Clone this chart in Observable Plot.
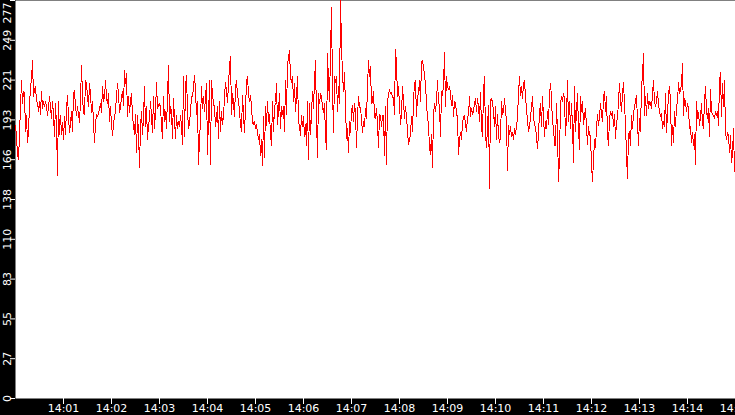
<!DOCTYPE html>
<html>
<head>
<meta charset="utf-8">
<script src="https://cdn.jsdelivr.net/npm/d3@7"></script>
<script src="https://cdn.jsdelivr.net/npm/@observablehq/plot@0.6"></script>
<style>
  html, body { margin: 0; padding: 0; background: #000; }
  svg { display: block; }
</style>
</head>
<body>
<div id="chart"></div>
<script>
// Readings, one per second-and-a-quarter, starting 14:00:00
const startTime = "2024-01-01T14:00:00Z";
const stepSeconds = 1.25;

const values1 = [190,182,170,166,184,203,221,205,214,212,186,197,178,186,204,217,222,235,210,215,217,207,206,200,207,198,214,202,207,203,207,203,197,203,210,203,195,207,198,182,205,191,155,207,184,197,184,192,180,196,184,202,211,196,185,191,200,186,213,214,203,197,203,198,192,207,232,211,198,198,221,220,210,203,219,212,199,207,192,178,191,198,196,198,202,205,199,217,207,210];
const values2 = [221,210,205,212,193,203,191,183,191,196,200,211,219,212,199,203,210,214,204,228,219,226,196,210,199,207,212,197,190,184,198,171,197,185,161,189,200,184,195,217,189,203,180,190,195,207,196,185,210,188,199,220,202,204,205,203,190,181,210,193,200,188,210,232,193,203,200,181,209,195,181,197,188,193,189,197,190,177,224,182,217,225,200,188,191,200,210,210,217,225];
const values3 = [214,198,207,163,180,193,217,202,210,200,210,219,170,195,221,163,221,212,205,203,189,196,203,181,207,186,200,191,196,210,220,214,206,219,231,238,198,212,206,196,216,221,212,207,200,190,186,211,198,185,202,220,224,212,207,211,203,192,191,193,188,191,185,180,184,169,180,162,196,168,203,190,207,193,198,184,176,207,186,202,206,219,191,200,212,188,203,198,203,186];
const values4 = [221,198,232,238,242,224,220,224,207,219,200,210,224,193,189,183,197,189,196,182,191,176,207,166,205,184,198,214,202,221,235,196,168,212,205,212,210,203,199,205,183,173,240,221,207,240,272,217,185,224,220,224,200,217,205,280,245,226,214,227,203,181,188,171,193,185,200,204,193,205,199,175,196,210,203,202,195,185,193,189,202,195,217,235,224,231,205,207,214,196];
const values5 = [195,202,191,175,198,197,189,197,197,169,203,163,207,211,215,212,213,210,209,198,243,233,210,217,205,191,198,217,207,195,203,196,186,177,180,184,196,186,207,220,221,196,210,212,221,207,234,235,231,225,219,205,196,191,174,170,184,161,198,205,200,207,221,207,203,182,214,211,218,241,203,224,217,215,217,212,204,211,196,207,205,199,195,170,180,185,180,192,196,197];
const values6 = [191,186,196,197,210,196,202,198,200,205,209,200,209,203,193,213,189,182,213,224,184,175,189,204,146,207,209,206,200,189,203,180,198,184,178,182,207,198,200,209,200,193,159,190,184,189,182,185,180,188,184,189,196,212,224,211,217,209,219,221,210,202,193,186,189,196,203,210,196,190,189,182,174,184,199,205,189,210,196,182,193,188,200,191,212,219,210,191,190,176];
const values7 = [176,205,185,151,168,205,210,207,212,209,183,196,221,193,207,188,205,191,164,217,186,200,212,189,173,210,200,207,191,196,202,189,177,189,184,182,163,151,166,180,175,188,198,190,196,205,198,193,209,214,200,210,184,176,195,200,197,200,189,198,181,192,195,207,219,207,200,212,220,205,191,170,153,184,186,176,197,188,198,203,207,211,193,176,195,186,217,225,240,197];
const values8 = [210,197,212,202,207,205,202,212,221,207,203,207,214,205,200,196,198,188,193,189,212,185,198,212,217,207,176,190,178,200,189,203,207,220,212,214,219,233,197,209,206,200,205,202,188,189,178,185,176,184,163,207,195,199,190,196,205,192,188,207,217,200,195,202,182,215,200,198,197,195,200,197,200,190,220,227,196,219,203,221,186,180,185,183,171,183,164,170,188,158];

const yTickValues = [0, 27.7, 55.4, 83.1, 110.8, 138.5, 166.2, 193.9, 221.6, 249.3, 277];
const yTickLabels = ["0","27","55","83","110","138","166","193","221","249","277"];
const xTickLabels = ["14:01","14:02","14:03","14:04","14:05","14:06","14:07","14:08","14:09","14:10","14:11","14:12","14:13","14:14","14:15"];

const allValues = [...values1, ...values2, ...values3, ...values4, ...values5, ...values6, ...values7, ...values8];
const t0 = new Date(startTime);
const data = allValues.map((v, i) => ({t: new Date(+t0 + i * stepSeconds * 1000), v}));
const xTicks = xTickLabels.map(s => new Date(`2024-01-01T${s}:00Z`));
const fmt = d3.utcFormat("%H:%M");
const lastIdx = yTickValues.length - 1;

const chart = Plot.plot({
  width: 735,
  height: 415,
  marginLeft: 15,
  marginRight: 0,
  marginTop: 0,
  marginBottom: 17,
  style: {background: "black", fontFamily: "DejaVu Sans", fontSize: "11px"},
  x: {type: "utc", domain: [t0, new Date("2024-01-01T14:15:00Z")]},
  y: {domain: [0, 277]},
  marks: [
    Plot.frame({fill: "white", stroke: null}),
    Plot.lineY(data, {x: "t", y: "v", stroke: "#ff0000", strokeWidth: 1, clip: true, shapeRendering: "crispEdges"}),
    Plot.axisY({ticks: yTickValues, tickSize: 5, stroke: "white", tickFormat: () => "", label: null}),
    Plot.text(yTickValues.slice(0, lastIdx), {y: d => d, text: (d, i) => yTickLabels[i], frameAnchor: "left", dx: -8, rotate: -90, fill: "white", fontSize: 11, textAnchor: "middle", lineAnchor: "middle"}),
    Plot.text([yTickValues[lastIdx]], {y: d => d, text: () => yTickLabels[lastIdx], frameAnchor: "left", dx: -8, dy: 2, rotate: -90, fill: "white", fontSize: 11, textAnchor: "end", lineAnchor: "middle"}),
    Plot.axisX({ticks: xTicks, tickSize: 6, tickPadding: 0, stroke: "white", fill: "white", tickFormat: fmt, label: null, fontSize: 11})
  ]
});
document.getElementById("chart").appendChild(chart);
</script>
</body>
</html>
